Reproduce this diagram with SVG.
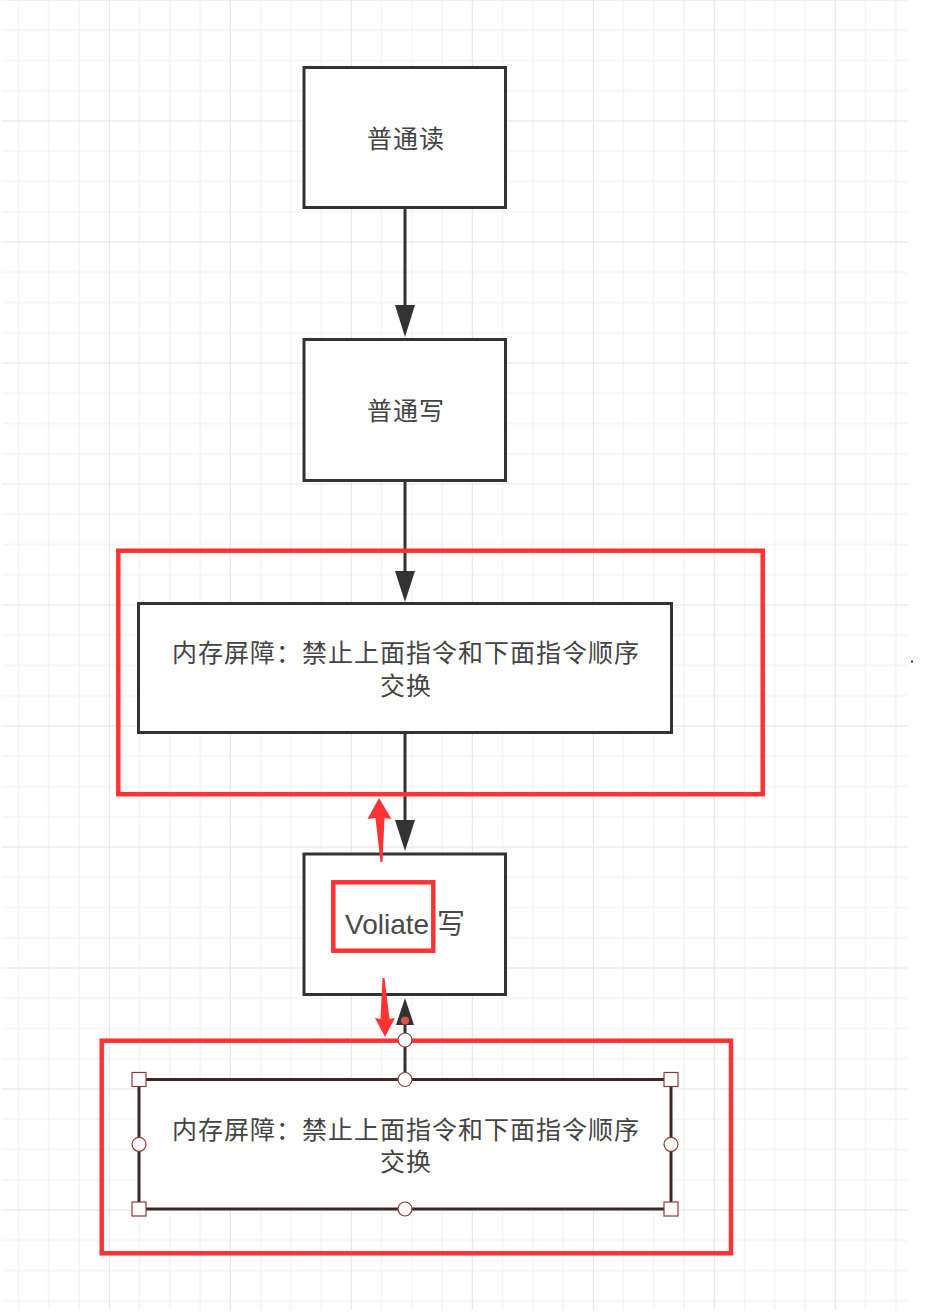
<svg xmlns="http://www.w3.org/2000/svg" width="930" height="1316" viewBox="0 0 930 1316">
  <defs>
    <pattern id="grid" patternUnits="userSpaceOnUse" x="108.8" y="-0.5" width="121" height="121">
      <rect x="30.25" y="0" width="1" height="121" fill="#f0f0f0"/>
      <rect x="60.5" y="0" width="1" height="121" fill="#f0f0f0"/>
      <rect x="90.75" y="0" width="1" height="121" fill="#f0f0f0"/>
      <rect x="0" y="30.25" width="121" height="1" fill="#f0f0f0"/>
      <rect x="0" y="60.5" width="121" height="1" fill="#f0f0f0"/>
      <rect x="0" y="90.75" width="121" height="1" fill="#f0f0f0"/>
      <rect x="0" y="0" width="1" height="121" fill="#e4e4e4"/>
      <rect x="0" y="0" width="121" height="1" fill="#e4e4e4"/>
    </pattern>
    <style>
      .box { fill: #ffffff; stroke: #333333; stroke-width: 3; }
      .sel { fill: #ffffff; stroke: #3b2828; stroke-width: 3; }
      .lbl { font-family: "Noto Sans CJK SC", "Liberation Sans", sans-serif; font-size: 25px; letter-spacing: 1px; fill: #444444; text-anchor: middle; }
      .lat { font-family: "Liberation Sans", "Noto Sans CJK SC", sans-serif; font-size: 28px; fill: #4a4a4a; text-anchor: middle; }
      .edge { stroke: #333333; stroke-width: 3; fill: none; }
      .head { fill: #333333; }
      .hl { fill: none; stroke: #ff3333; stroke-width: 4.5; }
      .red { fill: #ff3333; }
      .hdl { fill: #ffffff; stroke: #8a3a3a; stroke-width: 1.2; }
    </style>
  </defs>

  <rect x="0" y="0" width="930" height="1316" fill="#ffffff"/>
  <rect x="2" y="0" width="906" height="1310" fill="url(#grid)"/>

  <g id="connectors">
    <line class="edge" x1="405" y1="208" x2="405" y2="307"/>
    <polygon class="head" points="395,305 415,305 405,337"/>
    <line class="edge" x1="405" y1="481" x2="405" y2="573"/>
    <polygon class="head" points="395,571 415,571 405,602"/>
    <line class="edge" x1="405" y1="733" x2="405" y2="822"/>
    <polygon class="head" points="395,820 415,820 405,851"/>
    <line class="edge" x1="405" y1="1079" x2="405" y2="1023"/>
    <polygon class="head" points="396,1025 414,1025 405,998"/>
    <circle cx="405" cy="1020.5" r="4" fill="#d9534f"/>
  </g>

  <g id="node-read">
    <rect class="box" x="304" y="67.5" width="201.5" height="140"/>
    <text class="lbl" x="406" y="147.5">普通读</text>
  </g>

  <g id="node-write">
    <rect class="box" x="304" y="339.5" width="201.5" height="141"/>
    <text class="lbl" x="406" y="419.5">普通写</text>
  </g>

  <g id="node-barrier1">
    <rect class="box" x="138.5" y="603.5" width="533" height="129"/>
    <text class="lbl" x="406" y="662.3">内存屏障：禁止上面指令和下面指令顺序<tspan x="406" dy="32.6">交换</tspan></text>
  </g>

  <g id="node-volatile">
    <rect class="box" x="304" y="854" width="201.5" height="140.5"/>
    <text class="lat" x="405" y="934">Voliate 写</text>
  </g>

  <g id="node-barrier2">
    <rect class="sel" x="139" y="1079.5" width="532" height="129.5"/>
    <text class="lbl" x="406" y="1138.5">内存屏障：禁止上面指令和下面指令顺序<tspan x="406" dy="32.6">交换</tspan></text>
    <rect class="hdl" x="132" y="1072.5" width="14" height="14"/>
    <rect class="hdl" x="664" y="1072.5" width="14" height="14"/>
    <rect class="hdl" x="132" y="1202" width="14" height="14"/>
    <rect class="hdl" x="664" y="1202" width="14" height="14"/>
    <circle class="hdl" cx="405" cy="1079.5" r="7"/>
    <circle class="hdl" cx="139" cy="1144.3" r="7"/>
    <circle class="hdl" cx="671" cy="1144.3" r="7"/>
    <circle class="hdl" cx="405" cy="1209" r="7"/>
  </g>

  <g id="highlights">
    <rect class="hl" x="118.3" y="550.7" width="644.4" height="243.5"/>
    <rect class="hl" x="101.7" y="1040.7" width="629.3" height="212.6"/>
    <rect class="hl" x="333.3" y="882.3" width="100" height="68.4"/>
    <polygon class="red" points="379,798 391.5,819 384.5,818 382.5,862 380.5,862 375.5,818 367.5,819"/>
    <polygon class="red" points="382.5,978 384.5,978 389.5,1019 395,1018 385,1037 375,1018 380.5,1019"/>
  </g>

  <circle id="edge-handle" class="hdl" cx="405" cy="1040" r="7"/>
  <rect x="911" y="660.5" width="2" height="2" fill="#333333"/>
</svg>
